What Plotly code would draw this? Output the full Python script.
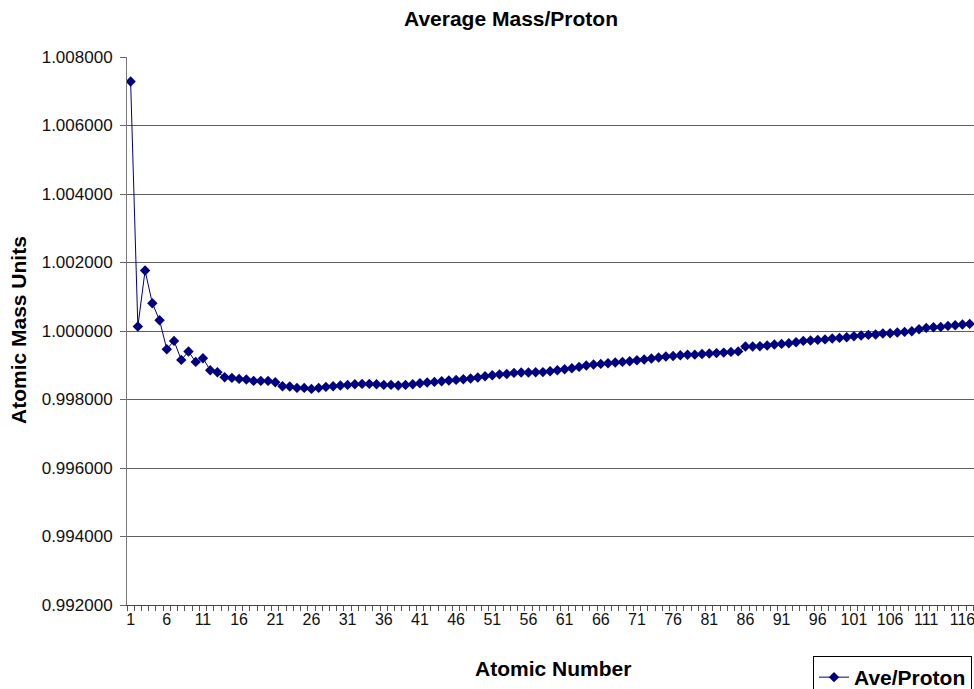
import plotly.graph_objects as go

atomic_number = list(range(1, 118))
ave_per_proton = [
    1.007285, 1.000131, 1.001766, 1.000812, 1.000315, 0.999469, 0.999711, 0.999156, 0.999401, 0.999098,
    0.999206, 0.998855, 0.998797, 0.998651, 0.998631, 0.998601, 0.998584, 0.998543, 0.998543, 0.998543,
    0.998505, 0.998388, 0.998380, 0.998339, 0.998339, 0.998310, 0.998339, 0.998368, 0.998385, 0.998409,
    0.998426, 0.998447, 0.998456, 0.998456, 0.998447, 0.998426, 0.998426, 0.998409, 0.998426, 0.998447,
    0.998476, 0.998496, 0.998514, 0.998534, 0.998555, 0.998572, 0.998593, 0.998613, 0.998642, 0.998680,
    0.998709, 0.998735, 0.998745, 0.998777, 0.998788, 0.998790, 0.998797, 0.998800, 0.998826, 0.998855,
    0.998885, 0.998914, 0.998952, 0.998993, 0.999022, 0.999039, 0.999060, 0.999080, 0.999098, 0.999118,
    0.999147, 0.999168, 0.999197, 0.999226, 0.999255, 0.999270, 0.999293, 0.999305, 0.999310, 0.999330,
    0.999345, 0.999355, 0.999370, 0.999390, 0.999405, 0.999547, 0.999547, 0.999556, 0.999577, 0.999606,
    0.999623, 0.999644, 0.999673, 0.999711, 0.999723, 0.999740, 0.999755, 0.999781, 0.999799, 0.999819,
    0.999848, 0.999869, 0.999886, 0.999898, 0.999927, 0.999936, 0.999956, 0.999974, 0.999994, 1.000053,
    1.000091, 1.000111, 1.000120, 1.000149, 1.000169, 1.000190, 1.000207,
]
x_tick_values = list(range(1, 118, 5))
y_tick_values = [0.992, 0.994, 0.996, 0.998, 1.000, 1.002, 1.004, 1.006, 1.008]

title_text = "Average Mass/Proton"
x_title = "Atomic Number"
y_title = "Atomic Mass Units"
series_name = "Ave/Proton"

FONT = "Liberation Sans, Arial, sans-serif"
NAVY = "#000080"

W, H = 974, 689
PL, PT, PR, PB = 127, 57, 974, 605  # plot area in page pixels

fig = go.Figure()
fig.add_trace(go.Scatter(
    x=atomic_number, y=ave_per_proton, mode="lines+markers", name="<b>" + series_name + "</b>",
    line=dict(color=NAVY, width=1),
    marker=dict(symbol="diamond", size=8, color=NAVY, line=dict(width=0)),
))

pw, ph = PR - PL, PB - PT

fig.update_layout(
    width=W, height=H,
    margin=dict(l=PL, r=W - PR, t=PT, b=H - PB, autoexpand=False),
    paper_bgcolor="white", plot_bgcolor="white",
    font=dict(family=FONT, color="#111111"),
    title=dict(text="<b>" + title_text + "</b>", font=dict(size=21, family=FONT, color="#000"),
               x=511 / W, xref="container", xanchor="center",
               y=1 - 19 / H, yref="container", yanchor="middle"),
    showlegend=True,
    legend=dict(xref="container", yref="container", x=813 / W, y=1 - 656 / H,
                xanchor="left", yanchor="top",
                bordercolor="#000", borderwidth=1, bgcolor="white",
                font=dict(size=21, family=FONT, color="#000"),
                itemwidth=30, tracegroupgap=0),
    xaxis=dict(
        range=[0.5, 117.6], tickmode="array", tickvals=x_tick_values,
        ticktext=[str(v) for v in x_tick_values], ticks="", tickangle=0,
        ticklabeloverflow="allow",
        tickfont=dict(size=16, color="#111"),
        showgrid=False, zeroline=False,
        showline=True, linecolor="#444", linewidth=1,
        minor=dict(ticks="outside", tickmode="linear", tick0=0.5, dtick=1,
                   ticklen=5, tickcolor="#555", tickwidth=1, showgrid=False),
    ),
    yaxis=dict(
        range=[0.992, 1.008], tickmode="array", tickvals=y_tick_values,
        ticktext=["%.6f" % v for v in y_tick_values],
        ticks="outside", ticklen=6, tickcolor="#666", ticklabelstandoff=4,
        tickfont=dict(size=17, color="#111"),
        showgrid=True, gridcolor="#5e5e5e", gridwidth=1,
        zeroline=False, showline=True, linecolor="#777", linewidth=1,
    ),
    annotations=[
        dict(text="<b>" + x_title + "</b>", xref="paper", yref="paper",
             x=(553 - PL) / pw, y=(PB - 668) / ph, xanchor="center", yanchor="middle",
             showarrow=False, font=dict(size=21, family=FONT, color="#000")),
        dict(text="<b>" + y_title + "</b>", xref="paper", yref="paper",
             x=(18 - PL) / pw, y=(PB - 330) / ph, xanchor="center", yanchor="middle",
             textangle=-90, showarrow=False, font=dict(size=21, family=FONT, color="#000")),
    ],
)

fig.write_html(
    "out.html",
    config={"displayModeBar": False},
    post_script="document.body.style.margin='0';document.body.style.overflow='hidden';",
)
